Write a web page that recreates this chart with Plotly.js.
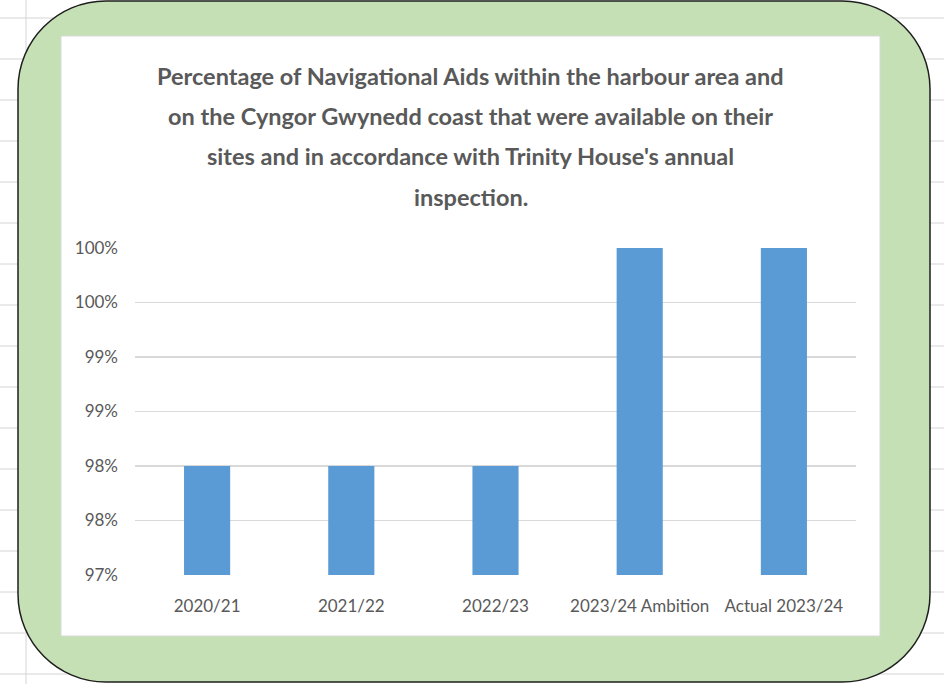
<!DOCTYPE html>
<html>
<head>
<meta charset="utf-8">
<script src="https://cdn.plot.ly/plotly-3.0.1.min.js"></script>
<style>
  html, body { margin: 0; padding: 0; background: #ffffff; }
  #chart { width: 944px; height: 684px; }
</style>
</head>
<body>
<div id="chart"></div>
<script>
// ---- Data ----
const categories = ["2020/21", "2021/22", "2022/23", "2023/24 Ambition", "Actual 2023/24"];
const values = [0.98, 0.98, 0.98, 1.00, 1.00];
const yTickVals = [0.97, 0.975, 0.98, 0.985, 0.99, 0.995, 1.00];
const yTickText = ["97%", "98%", "98%", "99%", "99%", "100%", "100%"];
const titleLines = [
  "Percentage of Navigational Aids within the harbour area and",
  "on the Cyngor Gwynedd coast that were available on their",
  "sites and in accordance with Trinity House's annual",
  "inspection."
];

// ---- Layout geometry (pixels) ----
const W = 944, H = 684;
const PL = 135, PR = 856, PT = 248, PB = 575;
const pw = PR - PL, ph = PB - PT;
const X = px => (px - PL) / pw;
const Y = py => (PB - py) / ph;

const shapes = [];
// spreadsheet gridlines in background
for (let gy = 18; gy < H; gy += 41) {
  shapes.push({type: "line", xref: "paper", yref: "paper", layer: "below",
    x0: X(0), x1: X(W), y0: Y(gy), y1: Y(gy), line: {color: "#d4d4d4", width: 1}});
}
shapes.push({type: "line", xref: "paper", yref: "paper", layer: "below",
  x0: X(26), x1: X(26), y0: Y(0), y1: Y(H), line: {color: "#d4d4d4", width: 1}});

// green rounded frame
(function () {
  const l = 18, r = 930, t = 1, b = 682, rad = 88, k = rad * 0.5523;
  const P = (x, y) => X(x) + "," + Y(y);
  const d = "M" + P(l + rad, t) +
    " L" + P(r - rad, t) +
    " C" + P(r - rad + k, t) + " " + P(r, t + rad - k) + " " + P(r, t + rad) +
    " L" + P(r, b - rad) +
    " C" + P(r, b - rad + k) + " " + P(r - rad + k, b) + " " + P(r - rad, b) +
    " L" + P(l + rad, b) +
    " C" + P(l + rad - k, b) + " " + P(l, b - rad + k) + " " + P(l, b - rad) +
    " L" + P(l, t + rad) +
    " C" + P(l, t + rad - k) + " " + P(l + rad - k, t) + " " + P(l + rad, t) + " Z";
  shapes.push({type: "path", xref: "paper", yref: "paper", layer: "below", path: d,
    fillcolor: "#c5e0b4", line: {color: "#1e1e1e", width: 1.5}});
})();
// white chart area
shapes.push({type: "rect", xref: "paper", yref: "paper", layer: "below",
  x0: X(61), x1: X(880), y0: Y(636), y1: Y(36),
  fillcolor: "#ffffff", line: {color: "#d9d9d9", width: 1}});

// title lines as annotations
const titleY = [76, 116, 156, 197];
const annotations = titleLines.map((txt, i) => ({
  text: "<b>" + txt + "</b>", xref: "paper", yref: "paper",
  x: X(470.5), y: Y(titleY[i]), xanchor: "center", yanchor: "middle",
  showarrow: false, font: {family: "Lato, 'Open Sans', sans-serif", size: 23.5, color: "#595959"}
}));

const trace = {
  type: "bar", x: categories, y: values,
  marker: {color: "#5b9bd5"},
  hoverinfo: "skip"
};

const layout = {
  width: W, height: H,
  margin: {l: PL, r: W - PR, t: PT, b: H - PB, pad: 0},
  paper_bgcolor: "#ffffff", plot_bgcolor: "rgba(0,0,0,0)",
  showlegend: false,
  bargap: 0.68,
  font: {family: "Lato, 'Open Sans', sans-serif", size: 17, color: "#595959"},
  xaxis: {type: "category", showgrid: false, zeroline: false, showline: false,
    ticks: "", ticklabelstandoff: 19, tickfont: {size: 17, color: "#595959"}, fixedrange: true},
  yaxis: {range: [0.97, 1.0], tickvals: yTickVals, ticktext: yTickText,
    showgrid: true, gridcolor: "#d9d9d9", gridwidth: 1.5, zeroline: false, showline: false,
    ticks: "", ticklabelstandoff: 16, tickfont: {size: 17, color: "#595959"}, fixedrange: true},
  shapes: shapes,
  annotations: annotations
};

Plotly.newPlot("chart", [trace], layout, {displayModeBar: false, staticPlot: true});
</script>
</body>
</html>
